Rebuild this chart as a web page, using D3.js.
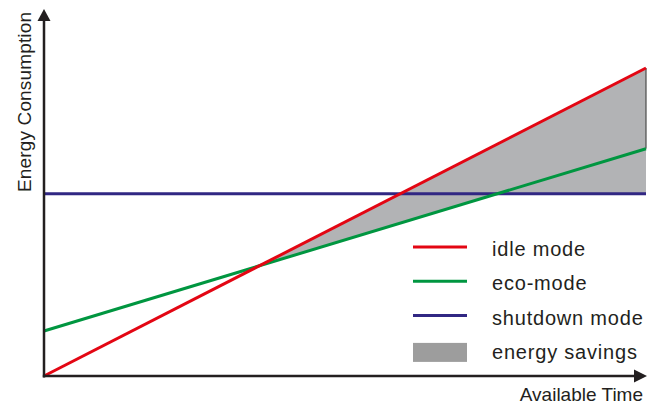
<!DOCTYPE html>
<html>
<head>
<meta charset="utf-8">
<script src="https://cdn.jsdelivr.net/npm/d3@7"></script>
<style>
  body { margin: 0; background: #fff; }
  text { font-family: 'Liberation Sans', Arial, sans-serif; fill: #231f20; }
</style>
</head>
<body>
<div id="chart"></div>
<script>
// time runs 0..10, consumption 0..100 (arbitrary units)
const time = [0, 10];
const idleMode = [0, 100];
const ecoMode = [14.6, 73.8];
const shutdownMode = [59.2, 59.2];

const seriesNames = ['idle mode', 'eco-mode', 'shutdown mode', 'energy savings'];
const seriesColors = ['#e30613', '#009640', '#312783', '#9d9d9d'];

const width = 662;
const height = 404;

const x = d3.scaleLinear().domain([0, 10]).range([44, 646]);
const y = d3.scaleLinear().domain([0, 100]).range([376, 68]);

const svg = d3.select('#chart').append('svg')
  .attr('width', width)
  .attr('height', height);

// value of a two-point line at time t
function at(vals, t) {
  return vals[0] + (vals[1] - vals[0]) * (t - time[0]) / (time[1] - time[0]);
}
// time where two lines cross
function cross(a, b) {
  const da = (a[1] - a[0]) / (time[1] - time[0]);
  const db = (b[1] - b[0]) / (time[1] - time[0]);
  return time[0] + (b[0] - a[0]) / (da - db);
}

//savings area: idle above the cheaper of eco / shutdown
const tStart = cross(idleMode, ecoMode);
const tSwitch = cross(ecoMode, shutdownMode);
const savings = [tStart, tSwitch, time[1]].map((t) => ({
  t: t,
  top: at(idleMode, t),
  bottom: Math.min(at(ecoMode, t), at(shutdownMode, t)),
}));

svg.append('path')
  .datum(savings)
  .attr('fill', '#b2b3b5')
  .attr('d', d3.area().x((d) => x(d.t)).y0((d) => y(d.bottom)).y1((d) => y(d.top)));

// right edge of the area
svg.append('line')
  .attr('x1', x(time[1])).attr('x2', x(time[1]))
  .attr('y1', y(at(idleMode, time[1]))).attr('y2', y(at(ecoMode, time[1])))
  .attr('stroke', '#4a4a4a').attr('stroke-width', 1.2);

//lines
const line = d3.line().x((d) => x(d[0])).y((d) => y(d[1]));
[shutdownMode, ecoMode, idleMode].forEach((vals) => {
  const i = vals === idleMode ? 0 : vals === ecoMode ? 1 : 2;
  svg.append('path')
    .datum(time.map((t, k) => [t, vals[k]]))
    .attr('fill', 'none')
    .attr('stroke', seriesColors[i])
    .attr('stroke-width', 3)
    .attr('d', line);
});

//axes with arrow heads
const axisColor = '#231f20';
svg.append('line')
  .attr('x1', x(0)).attr('x2', x(0))
  .attr('y1', y(0) + 1.5).attr('y2', 20)
  .attr('stroke', axisColor).attr('stroke-width', 2.5);
svg.append('path')
  .attr('d', `M${x(0)},9 L${x(0) + 6.5},21 L${x(0) - 6.5},21 Z`)
  .attr('fill', axisColor);

svg.append('line')
  .attr('x1', x(0) - 1.2).attr('x2', 634)
  .attr('y1', y(0)).attr('y2', y(0))
  .attr('stroke', axisColor).attr('stroke-width', 2.5);
svg.append('path')
  .attr('d', `M647,${y(0)} L634,${y(0) - 6.5} L634,${y(0) + 6.5} Z`)
  .attr('fill', axisColor);

//axis labels
svg.append('text')
  .text('Energy Consumption')
  .attr('transform', 'translate(31,192) rotate(-90)')
  .style('font-size', '19px')
  .style('letter-spacing', '0.15px');

svg.append('text')
  .text('Available Time')
  .attr('x', 643)
  .attr('y', 401)
  .attr('text-anchor', 'end')
  .style('font-size', '19px');

//legend
const legend = svg.append('g').attr('transform', 'translate(413,247)');
seriesNames.forEach((name, i) => {
  const g = legend.append('g').attr('transform', `translate(0, ${i * 34.3})`);
  if (i < 3) {
    g.append('line')
      .attr('x1', 0).attr('x2', 54)
      .attr('stroke', seriesColors[i])
      .attr('stroke-width', 3);
  } else {
    g.append('rect')
      .attr('x', 0).attr('y', -7)
      .attr('width', 54).attr('height', 19)
      .attr('fill', seriesColors[i]);
  }
  g.append('text')
    .text(name)
    .attr('x', 79)
    .attr('y', 9)
    .style('font-size', '20px')
    .style('letter-spacing', '0.8px');
});
</script>
</body>
</html>
